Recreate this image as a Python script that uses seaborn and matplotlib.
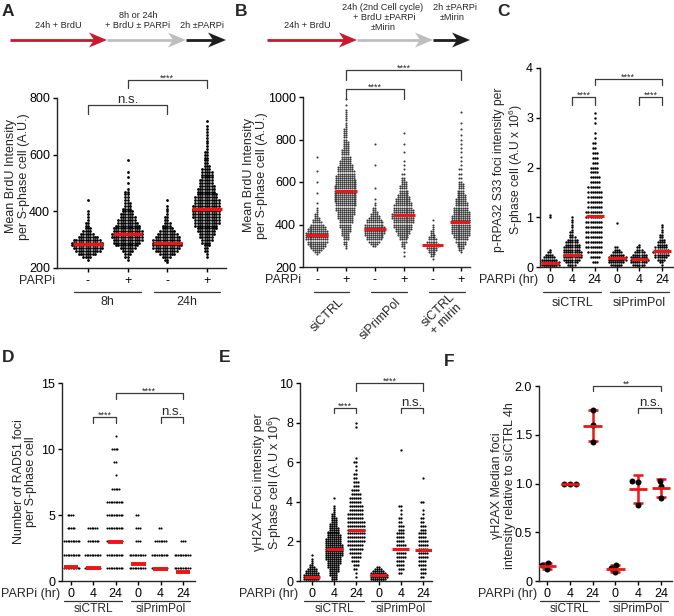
import numpy as np
import pandas as pd
import matplotlib
matplotlib.use("Agg")
import matplotlib.pyplot as plt
import seaborn as sns
from matplotlib.patches import Polygon

# ======================= DATA =======================
# ---- Panel A: Mean BrdU intensity (binned values + counts)
A_groups = ["8h -", "8h +", "24h -", "24h +"]
A_ticklabels = ["-", "+", "-", "+"]
A_sets = ["8h", "24h"]
A_8h_minus_vals = [230, 240, 250, 260, 270, 280, 290, 300, 310, 320, 330, 340, 350, 360, 370, 380, 390, 400, 440]
A_8h_minus_counts = [1, 4, 8, 11, 13, 14, 14, 12, 9, 6, 4, 3, 2, 2, 1, 1, 1, 1, 1]
A_8h_plus_vals = [230, 240, 250, 260, 270, 280, 290, 300, 310, 320, 330, 340, 350, 360, 370, 380, 390, 400,
                  410, 420, 430, 440, 450, 460, 470, 480, 500, 520, 540, 580]
A_8h_plus_counts = [1, 2, 3, 5, 7, 10, 12, 13, 14, 14, 13, 12, 11, 9, 8, 7, 6, 5,
                    4, 3, 3, 2, 2, 2, 2, 1, 1, 1, 1, 1]
A_24h_minus_vals = [220, 230, 240, 250, 260, 270, 280, 290, 300, 310, 320, 330, 340, 350, 360, 370, 380, 390,
                    400, 410, 420, 440]
A_24h_minus_counts = [1, 2, 4, 7, 10, 12, 13, 13, 12, 11, 9, 7, 5, 4, 3, 2, 2, 1, 1, 1, 1, 1]
A_24h_plus_vals = [240, 250, 260, 270, 280, 290, 300, 310, 320, 330, 340, 350, 360, 370, 380, 390, 400, 410,
                   420, 430, 440, 450, 460, 470, 480, 490, 500, 510, 520, 530, 540, 550, 560, 570, 580, 590,
                   600, 610, 620, 630, 640, 650, 660, 670, 680, 690, 700, 720]
A_24h_plus_counts = [1, 1, 2, 2, 3, 4, 5, 6, 7, 8, 9, 10, 11, 11, 12, 12, 12, 12,
                     12, 11, 11, 10, 9, 8, 8, 7, 6, 6, 5, 5, 5, 4, 3, 2, 2, 2,
                     2, 2, 1, 1, 1, 1, 1, 1, 1, 1, 1, 1]
A_medians = [285, 320, 290, 410]

# ---- Panel B
B_groups = ["siCTRL -", "siCTRL +", "siPrimPol -", "siPrimPol +", "mirin -", "mirin +"]
B_ticklabels = ["-", "+", "-", "+", "-", "+"]
B_sets = ["siCTRL", "siPrimPol", "siCTRL\n+ mirin"]
B_ctrl_minus_vals = [260, 270, 280, 290, 300, 310, 320, 330, 340, 350, 360, 370, 380, 390, 400, 410, 420, 430,
                     440, 450, 460, 470, 480, 500, 550, 600, 650, 720]
B_ctrl_minus_counts = [1, 3, 5, 7, 9, 10, 11, 12, 12, 12, 12, 11, 10, 9, 7, 5, 4, 3,
                       2, 2, 1, 1, 1, 1, 1, 1, 1, 1]
B_ctrl_plus_vals = [290, 300, 310, 320, 330, 340, 350, 360, 370, 380, 390, 400, 410, 420, 430, 440, 450, 460,
                    470, 480, 490, 500, 510, 520, 530, 540, 550, 560, 570, 580, 590, 600, 610, 620, 630, 640,
                    650, 660, 670, 680, 690, 700, 710, 720, 730, 740, 750, 760, 770, 780, 790, 800, 810, 820,
                    830, 840, 850, 860, 870, 880, 890, 900, 910, 920, 930, 940, 960, 990]
B_ctrl_plus_counts = [1, 1, 2, 2, 3, 3, 4, 4, 5, 5, 6, 6, 7, 7, 8, 8, 9, 9,
                      10, 10, 11, 11, 12, 12, 12, 12, 12, 12, 12, 12, 11, 11, 11, 10, 10, 9,
                      9, 8, 8, 7, 6, 6, 5, 5, 4, 4, 4, 3, 3, 3, 3, 2, 2, 2,
                      2, 2, 2, 1, 1, 1, 1, 1, 1, 1, 1, 1, 1, 1]
B_prim_minus_vals = [300, 310, 320, 330, 340, 350, 360, 370, 380, 390, 400, 410, 420, 430, 440, 450, 460, 470,
                     480, 490, 500, 520, 570, 680, 780]
B_prim_minus_counts = [2, 4, 6, 8, 9, 10, 11, 11, 11, 11, 10, 9, 8, 6, 5, 4, 3, 2,
                       2, 1, 1, 1, 1, 1, 1]
B_prim_plus_vals = [250, 270, 290, 300, 310, 320, 330, 340, 350, 360, 370, 380, 390, 400, 410, 420, 430, 440,
                    450, 460, 470, 480, 490, 500, 510, 520, 530, 540, 550, 560, 570, 580, 590, 600, 610, 620,
                    640, 660, 680, 700, 740, 780, 830]
B_prim_plus_counts = [1, 1, 1, 2, 2, 3, 4, 5, 6, 7, 8, 9, 10, 10, 11, 11, 12, 12,
                      12, 11, 11, 10, 10, 9, 8, 8, 7, 6, 5, 5, 4, 4, 3, 3, 2, 2,
                      2, 1, 1, 1, 1, 1, 1]
B_mirin_minus_vals = [240, 250, 260, 270, 280, 290, 300, 310, 320, 330, 340, 350, 360, 370, 380, 390, 400, 420]
B_mirin_minus_counts = [1, 2, 3, 4, 5, 6, 7, 7, 6, 5, 4, 3, 2, 2, 1, 1, 1, 1]
B_mirin_plus_vals = [270, 280, 290, 300, 310, 320, 330, 340, 350, 360, 370, 380, 390, 400, 410, 420, 430, 440,
                     450, 460, 470, 480, 490, 500, 510, 520, 530, 540, 550, 560, 570, 580, 590, 600, 620, 640,
                     660, 680, 700, 720, 740, 760, 780, 800, 820, 850, 880, 930]
B_mirin_plus_counts = [1, 2, 3, 4, 5, 6, 7, 8, 9, 10, 10, 11, 11, 11, 11, 11, 10, 10,
                       9, 9, 8, 8, 7, 7, 6, 6, 5, 5, 4, 4, 3, 3, 3, 2, 2, 2,
                       2, 1, 1, 1, 1, 1, 1, 1, 1, 1, 1, 1]
B_medians = [350, 560, 380, 445, 305, 410]

# ---- Panels C-F share the group layout
hr_groups = ["siCTRL 0", "siCTRL 4", "siCTRL 24", "siPrimPol 0", "siPrimPol 4", "siPrimPol 24"]
hr_ticklabels = ["0", "4", "24", "0", "4", "24"]
hr_sets = ["siCTRL", "siPrimPol"]

# ---- Panel C: p-RPA32 S33 foci intensity (x10^6)
C_g1_vals = [0.0, 0.05, 0.10, 0.15, 0.20, 0.25, 0.30, 0.35, 1.00, 1.05]
C_g1_counts = [7, 9, 9, 8, 6, 4, 2, 1, 1, 1]
C_g2_vals = [0.0, 0.05, 0.10, 0.15, 0.20, 0.25, 0.30, 0.35, 0.40, 0.45, 0.50, 0.55, 0.60, 0.65, 0.70,
             0.75, 0.80, 0.85, 0.90, 0.95, 1.00]
C_g2_counts = [2, 4, 6, 8, 9, 9, 9, 8, 8, 7, 6, 5, 3, 2, 2, 1, 1, 1, 1, 1, 1]
C_g3_vals = [0.1, 0.2, 0.3, 0.4, 0.5, 0.6, 0.7, 0.8, 0.9, 1.0, 1.1, 1.2, 1.3, 1.4, 1.5, 1.6, 1.7, 1.8,
             1.9, 2.0, 2.1, 2.2, 2.3, 2.4, 2.5, 2.6, 2.7, 2.9, 3.0, 3.1]
C_g3_counts = [3, 5, 7, 8, 8, 8, 8, 8, 8, 8, 8, 7, 7, 7, 7, 6, 5, 5,
               4, 4, 3, 3, 3, 2, 2, 1, 1, 1, 1, 1]
C_g4_vals = [0.0, 0.05, 0.10, 0.15, 0.20, 0.25, 0.30, 0.35, 0.40, 0.88]
C_g4_counts = [3, 6, 8, 9, 9, 7, 5, 3, 2, 1]
C_g5_vals = [0.0, 0.05, 0.10, 0.15, 0.20, 0.25, 0.30, 0.35, 0.40, 0.45]
C_g5_counts = [3, 6, 8, 9, 8, 7, 5, 3, 2, 1]
C_g6_vals = [0.05, 0.10, 0.15, 0.20, 0.25, 0.30, 0.35, 0.40, 0.45, 0.50, 0.55, 0.60, 0.65, 0.70, 0.75,
             0.80, 0.85]
C_g6_counts = [1, 2, 4, 6, 7, 8, 7, 6, 5, 4, 3, 2, 2, 1, 1, 1, 1]
C_medians = [0.08, 0.25, 1.02, 0.18, 0.17, 0.32]

# ---- Panel D: number of RAD51 foci
D_g1_vals = [1, 2, 3, 4, 5]
D_g1_counts = [10, 10, 10, 5, 4]
D_g2_vals = [1, 2, 3, 4]
D_g2_counts = [10, 10, 7, 6]
D_g3_vals = [1, 2, 3, 4, 5, 6, 7, 8, 9, 10, 11]
D_g3_counts = [10, 10, 10, 10, 10, 10, 5, 1, 2, 4, 1]
D_g4_vals = [1, 2, 3, 4, 5]
D_g4_counts = [10, 10, 3, 3, 2]
D_g5_vals = [1, 2, 3, 4]
D_g5_counts = [10, 10, 7, 2]
D_g6_vals = [1, 2, 3]
D_g6_counts = [10, 10, 3]
D_means = [1.08, 0.96, 2.98, 1.26, 0.88, 0.66]

# ---- Panel E: gH2AX foci intensity (x10^6)
E_g1_vals = [0.0, 0.1, 0.2, 0.3, 0.4, 0.5, 0.6, 0.7, 0.8, 0.9, 1.0, 1.1, 1.3]
E_g1_counts = [6, 8, 8, 8, 7, 6, 5, 3, 2, 1, 1, 1, 1]
E_g2_vals = [0.0, 0.1, 0.2, 0.3, 0.4, 0.5, 0.6, 0.7, 0.8, 0.9, 1.0, 1.1, 1.2, 1.3, 1.4, 1.5, 1.6, 1.7,
             1.8, 1.9, 2.0, 2.1, 2.2, 2.3, 2.4, 2.5, 2.6, 2.7, 2.8, 2.9, 3.0, 3.1, 3.2, 3.3, 3.4, 3.5,
             3.6, 3.7, 3.8, 4.2]
E_g2_counts = [2, 3, 3, 4, 4, 5, 5, 6, 6, 7, 7, 8, 8, 9, 9, 9, 9, 9,
               9, 8, 8, 8, 7, 7, 6, 6, 5, 5, 4, 4, 3, 3, 3, 2, 2, 1,
               1, 1, 1, 1]
E_g3_vals = [0.2, 0.4, 0.6, 0.8, 1.0, 1.2, 1.4, 1.6, 1.8, 2.0, 2.2, 2.4, 2.6, 2.8, 3.0, 3.2, 3.4, 3.6,
             3.8, 4.0, 4.2, 4.4, 4.6, 4.8, 5.0, 5.2, 5.4, 5.6, 5.8, 6.0, 6.2, 7.8, 8.0]
E_g3_counts = [1, 1, 2, 3, 4, 5, 6, 7, 8, 9, 9, 9, 9, 9, 9, 8, 8, 7,
               7, 6, 6, 5, 4, 3, 3, 2, 2, 1, 1, 2, 1, 1, 1]
E_g4_vals = [0.0, 0.1, 0.2, 0.3, 0.4, 0.5, 0.6, 0.7]
E_g4_counts = [6, 8, 9, 9, 8, 6, 4, 2]
E_g5_vals = [0.4, 0.6, 0.8, 1.0, 1.2, 1.4, 1.6, 1.8, 2.0, 2.2, 2.4, 2.6, 2.8, 3.0, 3.2, 3.4, 3.6, 3.8, 6.6]
E_g5_counts = [2, 3, 4, 4, 5, 5, 5, 5, 4, 4, 4, 3, 3, 2, 2, 1, 1, 2, 1]
E_g6_vals = [0.2, 0.4, 0.6, 0.8, 1.0, 1.2, 1.4, 1.6, 1.8, 2.0, 2.2, 2.4, 2.6, 2.8, 3.0, 3.2, 3.4, 3.6,
             4.0, 5.2]
E_g6_counts = [2, 3, 3, 4, 4, 5, 5, 5, 5, 5, 4, 4, 3, 3, 2, 2, 1, 1, 2, 1]
E_medians = [0.22, 1.6, 2.6, 0.28, 1.62, 1.56]

# ---- Panel F: gH2AX median foci intensity relative to siCTRL 4h (3 replicates)
F_g1 = [0.18, 0.16, 0.12]
F_g2 = [1.0, 1.0, 1.0]
F_g3 = [1.75, 1.60, 1.43]
F_g4 = [0.16, 0.13, 0.09]
F_g5 = [1.03, 1.02, 0.78]
F_g6 = [1.03, 0.97, 0.85]

# ======================= STYLE =======================
sns.set_style("ticks")
plt.rcParams["font.family"] = ["Liberation Sans", "DejaVu Sans"]
plt.rcParams["mathtext.fontset"] = "custom"
plt.rcParams["mathtext.rm"] = "Liberation Sans"
plt.rcParams["mathtext.default"] = "regular"
plt.rcParams["axes.linewidth"] = 1.0

W, H = 674, 616
RED = "#f01414"
FS = 9
fig = plt.figure(figsize=(W / 100, H / 100), dpi=100)
ENLARGE = {}


def add_ax(l, r, t, b):
    return fig.add_axes([l / W, 1 - b / H, (r - l) / W, (b - t) / H])


def build(groups, vals_list, counts_list):
    frames = []
    for g, v, c in zip(groups, vals_list, counts_list):
        frames.append(pd.DataFrame({"group": g, "value": np.repeat(np.asarray(v, float), c)}))
    return pd.concat(frames, ignore_index=True)


def swarm(ax, df, groups, size, color="black", grow=1.0):
    sns.swarmplot(data=df, x="group", y="value", order=groups, size=size, color=color,
                  linewidth=0, ax=ax, warn_thresh=1.0, zorder=2)
    ENLARGE[ax] = grow


def center_bars(ax, vals, half, lw):
    for i, m in enumerate(vals):
        ax.plot([i - half, i + half], [m, m], color=RED, lw=lw, solid_capstyle="butt", zorder=5)


def style(ax, ylim, yticks, yticklabels, xlim, xticklabels):
    ax.set_ylim(*ylim)
    ax.set_yticks(yticks)
    ax.set_yticklabels(yticklabels)
    ax.set_xticks(range(len(xticklabels)))
    ax.set_xticklabels(xticklabels)
    ax.set_xlim(*xlim)
    ax.set_xlabel("")
    ax.set_ylabel("")
    sns.despine(ax=ax)
    ax.tick_params(labelsize=FS, length=3, width=1, pad=2, colors="black")


def px_h(ax):
    return ax.get_position().height * H


def px_w(ax):
    return ax.get_position().width * W


def ylabel(ax, text, xfrac, yfrac=0.5, fs=FS):
    ax.text(xfrac, yfrac, text, rotation=90, ha="center", va="center", multialignment="center",
            fontsize=fs, transform=ax.transAxes, linespacing=1.1)


def xlabel_row(ax, label, below_px=7.0):
    ax.text(-1.5 / px_w(ax), -below_px / px_h(ax), label, ha="right", va="top", fontsize=FS,
            transform=ax.transAxes)


def group_lines(ax, centers, half, line_px, labels=None, label_px=None, rotated=False, fs=FS):
    tr = ax.get_xaxis_transform()
    yl = -line_px / px_h(ax)
    for k, c in enumerate(centers):
        ax.plot([c - half, c + half], [yl, yl], color="#333333", lw=0.9, transform=tr, clip_on=False)
        if labels is not None:
            if rotated:
                ax.text(c + 0.35, -(label_px) / px_h(ax), labels[k], rotation=45, rotation_mode="anchor",
                        ha="right", va="center", multialignment="center", fontsize=fs, transform=tr,
                        linespacing=1.0)
            else:
                ax.text(c, -label_px / px_h(ax), labels[k], ha="center", va="top", fontsize=fs, transform=tr)


def bracket(ax, x1, x2, y, ydrop, text, fs, dy=0.0):
    ax.plot([x1, x1, x2, x2], [ydrop, y, y, ydrop], color="#3a3a3a", lw=0.9, clip_on=False)
    ax.annotate(text, ((x1 + x2) / 2, y), xytext=(0, dy), textcoords="offset points",
                ha="center", va="bottom", fontsize=fs, annotation_clip=False)


# ======================= PANEL A =======================
axA = add_ax(57, 226, 98, 268)
dfA = build(A_groups, [A_8h_minus_vals, A_8h_plus_vals, A_24h_minus_vals, A_24h_plus_vals],
            [A_8h_minus_counts, A_8h_plus_counts, A_24h_minus_counts, A_24h_plus_counts])
swarm(axA, dfA, A_groups, 1.6, grow=1.25)
center_bars(axA, A_medians, 0.37, 2.4)
style(axA, (200, 800), [200, 400, 600, 800], ["200", "400", "600", "800"], (-0.78, 3.48), A_ticklabels)
ylabel(axA, "Mean BrdU Intensity\nper S-phase cell (A.U.)", -0.232, 0.54)
xlabel_row(axA, "PARPi")
group_lines(axA, [0.5, 2.5], 0.84, 24, A_sets, 28)
bracket(axA, 0, 2, 775, 745, "n.s.", 9.5, dy=-1)
bracket(axA, 1, 3, 864, 835, "****", 6.5, dy=-2)

# ======================= PANEL B =======================
axB = add_ax(303, 470, 97, 267)
dfB = build(B_groups, [B_ctrl_minus_vals, B_ctrl_plus_vals, B_prim_minus_vals, B_prim_plus_vals,
                       B_mirin_minus_vals, B_mirin_plus_vals],
            [B_ctrl_minus_counts, B_ctrl_plus_counts, B_prim_minus_counts, B_prim_plus_counts,
             B_mirin_minus_counts, B_mirin_plus_counts])
swarm(axB, dfB, B_groups, 1.3, color="#3a3a3a", grow=1.15)
center_bars(axB, B_medians, 0.38, 2.2)
style(axB, (200, 1000), [200, 400, 600, 800, 1000], ["200", "400", "600", "800", "1000"],
      (-0.49, 5.3), B_ticklabels)
ylabel(axB, "Mean BrdU Intensity\nper S-phase cell (A.U.)", -0.287, 0.54)
xlabel_row(axB, "PARPi")
group_lines(axB, [0.5, 2.5, 4.5], 0.62, 25, B_sets, 33, rotated=True)
bracket(axB, 1, 3, 1038, 990, "****", 6.5, dy=-2)
bracket(axB, 1, 5, 1127, 1080, "****", 6.5, dy=-2)

# ======================= PANEL C =======================
axC = add_ax(540, 673, 68, 267)
dfC = build(hr_groups, [C_g1_vals, C_g2_vals, C_g3_vals, C_g4_vals, C_g5_vals, C_g6_vals],
            [C_g1_counts, C_g2_counts, C_g3_counts, C_g4_counts, C_g5_counts, C_g6_counts])
swarm(axC, dfC, hr_groups, 1.45, grow=1.2)
center_bars(axC, C_medians, 0.4, 2.2)
style(axC, (0, 4), [0, 1, 2, 3, 4], ["0", "1", "2", "3", "4"], (-0.45, 5.5), hr_ticklabels)
ylabel(axC, "p-RPA32 S33 foci intensity per\nS-phase cell (A.U x 10$^{6}$)", -0.235, 0.49, fs=8.7)
xlabel_row(axC, "PARPi (hr)")
group_lines(axC, [1, 4], 1.3, 25, hr_sets, 30)
bracket(axC, 1, 2, 3.42, 3.26, "****", 6.5, dy=-2)
bracket(axC, 4, 5, 3.42, 3.26, "****", 6.5, dy=-2)
bracket(axC, 2, 5, 3.78, 3.66, "****", 6.5, dy=-2)

# ======================= PANEL D =======================
axD = add_ax(62, 195, 383, 581)
dfD = build(hr_groups, [D_g1_vals, D_g2_vals, D_g3_vals, D_g4_vals, D_g5_vals, D_g6_vals],
            [D_g1_counts, D_g2_counts, D_g3_counts, D_g4_counts, D_g5_counts, D_g6_counts])
swarm(axD, dfD, hr_groups, 1.15, grow=1.3)
center_bars(axD, D_means, 0.33, 2.8)
style(axD, (0, 15), [0, 5, 10, 15], ["0", "5", "10", "15"], (-0.4, 5.54), hr_ticklabels)
ylabel(axD, "Number of RAD51 foci\nper S-phase cell", -0.278, 0.5)
xlabel_row(axD, "PARPi (hr)")
group_lines(axD, [1, 4], 1.3, 20, hr_sets, 21.5, fs=8.6)
bracket(axD, 1, 2, 12.42, 12.0, "****", 6.5, dy=-2)
bracket(axD, 4, 5, 12.42, 12.0, "n.s.", 9.5, dy=-1)
bracket(axD, 2, 5, 14.24, 13.8, "****", 6.5, dy=-2)

# ======================= PANEL E =======================
axE = add_ax(300, 432, 383, 581)
dfE = build(hr_groups, [E_g1_vals, E_g2_vals, E_g3_vals, E_g4_vals, E_g5_vals, E_g6_vals],
            [E_g1_counts, E_g2_counts, E_g3_counts, E_g4_counts, E_g5_counts, E_g6_counts])
swarm(axE, dfE, hr_groups, 1.37, grow=1.2)
center_bars(axE, E_medians, 0.38, 2.2)
style(axE, (0, 10), [0, 2, 4, 6, 8, 10], ["0", "2", "4", "6", "8", "10"], (-0.54, 5.4), hr_ticklabels)
ylabel(axE, "γH2AX Foci intensity per\nS-phase cell (A.U x 10$^{6}$)", -0.24, 0.5)
xlabel_row(axE, "PARPi (hr)")
group_lines(axE, [1, 4], 1.35, 20, hr_sets, 21.5, fs=8.6)
bracket(axE, 1, 2, 8.74, 8.48, "****", 6.5, dy=-2)
bracket(axE, 4, 5, 8.74, 8.48, "n.s.", 9.5, dy=-1)
bracket(axE, 2, 5, 10.0, 9.62, "****", 6.5, dy=-2)

# ======================= PANEL F =======================
axF = add_ax(539, 672, 386, 581)
F_all = [F_g1, F_g2, F_g3, F_g4, F_g5, F_g6]
dfF = pd.concat([pd.DataFrame({"group": g, "value": v}) for g, v in zip(hr_groups, F_all)], ignore_index=True)
F_means = [float(np.mean(v)) for v in F_all]
F_sds = [float(np.std(v, ddof=1)) for v in F_all]
axF.errorbar(range(6), F_means, yerr=F_sds, fmt="none", ecolor=RED, elinewidth=1.8, capsize=3.5,
             capthick=1.8, zorder=1)
center_bars(axF, F_means, 0.4, 2.0)
sns.swarmplot(data=dfF, x="group", y="value", order=hr_groups, size=4.3, color="black", linewidth=0,
              ax=axF, warn_thresh=1.0, zorder=3)
style(axF, (0, 2.0), [0, 0.5, 1.0, 1.5, 2.0], ["0", "0.5", "1.0", "1.5", "2.0"], (-0.35, 5.48), hr_ticklabels)
ylabel(axF, "γH2AX Median foci\nintensity relative to siCTRL 4h", -0.27, 0.49)
xlabel_row(axF, "PARPi (hr)")
group_lines(axF, [1, 4], 1.3, 20, hr_sets, 21.5, fs=8.6)
bracket(axF, 4, 5, 1.775, 1.72, "n.s.", 9.5, dy=-1)
bracket(axF, 2, 5, 2.0, 1.95, "**", 6.5, dy=-2)

# ======================= OVERLAY: arrows, letters =======================
ov = fig.add_axes([0, 0, 1, 1], zorder=-1)
ov.set_xlim(0, W)
ov.set_ylim(H, 0)
ov.axis("off")


def arrow(x0, x1, y, color, head=18, half=7.5):
    ov.plot([x0, x1 - head + 5], [y, y], color=color, lw=2.0, solid_capstyle="butt")
    ov.add_patch(Polygon([(x1, y), (x1 - head, y - half), (x1 - head + 5, y), (x1 - head, y + half)],
                         closed=True, facecolor=color, edgecolor="none"))


ARED, AGRAY, ABLK = "#c8192e", "#bebebe", "#1e1e1e"
arrow(10, 107, 40, ARED)
arrow(107, 186, 40, AGRAY)
arrow(186, 226, 40, ABLK)
arrow(267, 357, 40, ARED)
arrow(357, 433, 40, AGRAY)
arrow(433, 470, 40, ABLK)

AFS = 6.6
ov.text(58, 26, "24h + BrdU", ha="center", va="center", fontsize=AFS)
ov.text(138, 15, "8h or 24h", ha="center", va="center", fontsize=AFS)
ov.text(138, 26, "+ BrdU ± PARPi", ha="center", va="center", fontsize=AFS)
ov.text(202, 26, "2h ±PARPi", ha="center", va="center", fontsize=AFS)
ov.text(307, 26, "24h + BrdU", ha="center", va="center", fontsize=AFS)
ov.text(383, 8, "24h (2nd Cell cycle)", ha="center", va="center", fontsize=AFS)
ov.text(384, 18, "+ BrdU ±PARPi", ha="center", va="center", fontsize=AFS)
ov.text(383, 28, "±Mirin", ha="center", va="center", fontsize=AFS)
ov.text(455, 7, "2h ±PARPi", ha="center", va="center", fontsize=AFS)
ov.text(452, 17, "±Mirin", ha="center", va="center", fontsize=AFS)

for letter, x, y in [("A", 8, 12), ("B", 241, 11), ("C", 503, 12), ("D", 8, 357), ("E", 225, 357), ("F", 449, 361)]:
    ov.text(x, y, letter, ha="center", va="center", fontsize=12.5, fontweight="bold")

# ---- freeze the seaborn swarm layout, then draw the dots slightly larger so dense groups read solid
fig.canvas.draw()
for ax, grow in ENLARGE.items():
    for coll in ax.collections:
        if "draw" in coll.__dict__:
            del coll.draw
            coll.set_sizes(np.asarray(coll.get_sizes()) * grow ** 2)

fig.savefig("out.png", dpi=100)
